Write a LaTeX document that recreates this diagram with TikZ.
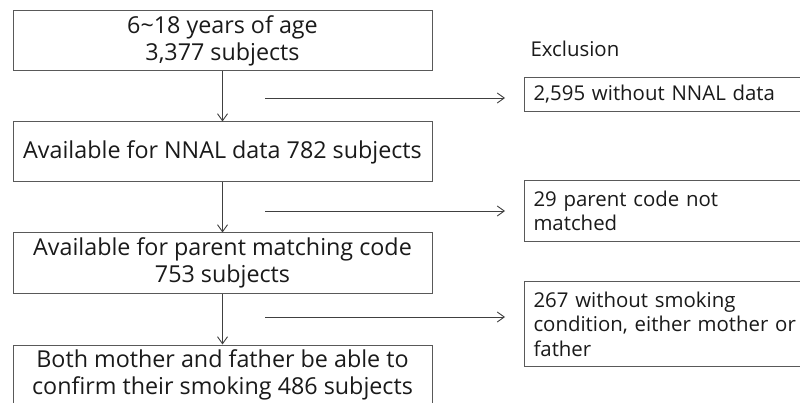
\documentclass[tikz,border=0pt]{standalone}
\usepackage{fontspec}
\setmainfont{Open Sans}
\usetikzlibrary{arrows.meta,positioning}
\definecolor{Ink}{HTML}{1A1A1A}
\definecolor{Frame}{HTML}{595959}
\definecolor{Wire}{HTML}{404040}

\begin{document}
\begin{tikzpicture}[x=1pt,y=-1pt,
    stagebox/.style={draw=Frame,line width=1pt,minimum width=419pt,minimum height=60pt,inner sep=0pt,align=center,text=Ink,font=\fontsize{23.3}{27}\selectfont},
    dropbox/.style={draw=Frame,line width=1pt,anchor=north west,text width=272pt,inner xsep=9pt,inner ysep=0pt,align=left,text=Ink,font=\fontsize{20.4}{24.5}\selectfont},
    flow/.style={draw=Wire,line width=0.9pt,-{Straight Barb[length=7pt,width=10pt]}}]
        \useasboundingbox (0,0) rectangle (800,403);
        \clip (0,0) rectangle (800,403);
        \fill[white] (0,0) rectangle (800,403);

        % main stages
        \node[stagebox] (age) at (222.5,41) {6\textasciitilde 18 years of age\\3,377 subjects};
        \node[stagebox] (nnal) at (222.5,152) {Available for NNAL data 782 subjects};
        \node[stagebox] (code) at (222.5,263) {Available for parent matching code\\753 subjects};
        \node[stagebox] (both) at (222.5,375) {Both mother and father be able to\\confirm their smoking 486 subjects};

        % exclusions
        \node[anchor=west,text=Ink,font=\fontsize{20.4}{24}\selectfont] (excl) at (527,49) {Exclusion};
        \node[dropbox,minimum height=34pt] (nodata) at (524,77) {2,595 without NNAL data};
        \node[dropbox,minimum height=61pt] (nomatch) at (524,180) {29 parent code not\\matched};
        \node[dropbox,minimum height=85pt] (nosmoke) at (524,281) {267 without smoking\\condition, either mother or\\father};

        \draw[flow] (age.south) -- (nnal.north);
        \draw[flow] (nnal.south) -- (code.north);
        \draw[flow] (code.south) -- (both.north);

        \coordinate (out1) at (265,98);
        \coordinate (out2) at (265,211);
        \coordinate (out3) at (265,317);
        \draw[flow,shorten >=19pt] (out1) -- (out1 -| nodata.west);
        \draw[flow,shorten >=19pt] (out2) -- (out2 -| nomatch.west);
        \draw[flow,shorten >=19pt] (out3) -- (out3 -| nosmoke.west);
      \end{tikzpicture}
\end{document}
